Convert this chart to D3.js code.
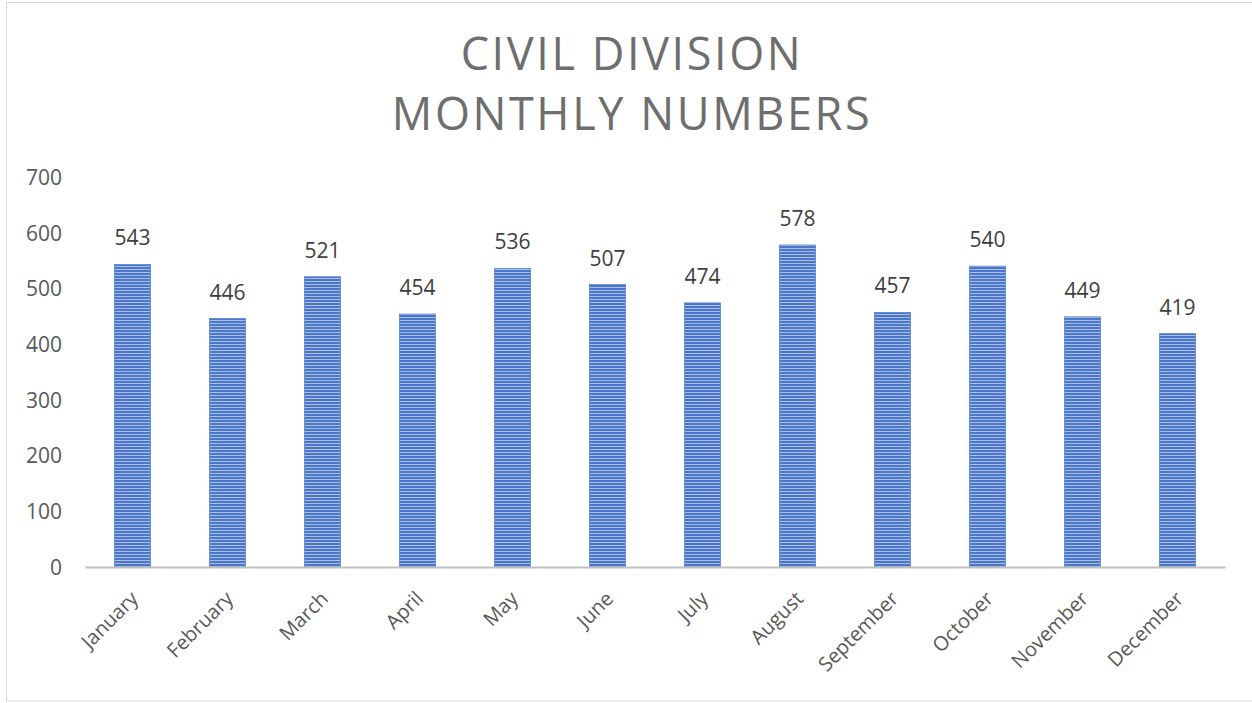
<!DOCTYPE html>
<html>
<head>
<meta charset="utf-8">
<script src="https://cdn.jsdelivr.net/npm/d3@7"></script>
<style>
  html, body { margin: 0; padding: 0; background: #fff; }
  svg { display: block; }
</style>
</head>
<body>
<svg id="chart" width="1252" height="703"></svg>
<script>
// Monthly case counts for the civil division
const months = ["January", "February", "March", "April", "May", "June",
                "July", "August", "September", "October", "November", "December"];
const counts = [543, 446, 521, 454, 536, 507, 474, 578, 457, 540, 449, 419];
const yTicks = [0, 100, 200, 300, 400, 500, 600, 700];
const titleLines = ["CIVIL DIVISION", "MONTHLY NUMBERS"];

const svg = d3.select("#chart");
const W = 1252, H = 703;
const margin = { left: 85, right: 27, top: 177, bottom: 136 };
const font = "'Open Sans', 'Noto Sans', sans-serif";
const textColor = "#595959";

// outer chart frame
svg.append("rect")
  .attr("x", 6.5).attr("y", 2.5)
  .attr("width", W - 4).attr("height", 698.5)
  .attr("fill", "none").attr("stroke", "#d9d9d9").attr("stroke-width", 1);

// striped fill for the bars
const defs = svg.append("defs");
const pat = defs.append("pattern")
  .attr("id", "stripes").attr("patternUnits", "userSpaceOnUse")
  .attr("width", 8).attr("height", 3);
pat.append("rect").attr("width", 8).attr("height", 3).attr("fill", "#4a77c8");
pat.append("rect").attr("y", 2).attr("width", 8).attr("height", 1).attr("fill", "#a9bde6");

const x = d3.scaleBand()
  .domain(months)
  .range([margin.left, W - margin.right])
  .paddingInner(0.62)
  .paddingOuter(0.31);

const y = d3.scaleLinear()
  .domain([0, 700])
  .range([H - margin.bottom, margin.top]);

// title
svg.append("g").selectAll("text")
  .data(titleLines).join("text")
  .attr("x", 632)
  .attr("y", (d, i) => 70 + i * 60)
  .attr("text-anchor", "middle")
  .attr("font-family", font)
  .attr("font-size", 45)
  .attr("letter-spacing", 2.6)
  .attr("fill", "#6e6e6e")
  .text(d => d);

// y axis labels (no axis line)
const yAxis = d3.axisLeft(y).tickValues(yTicks).tickSize(0).tickPadding(0);
const yg = svg.append("g").attr("transform", "translate(62,0)").call(yAxis);
yg.select(".domain").remove();
yg.selectAll("text")
  .attr("font-family", font).attr("font-size", 21).attr("fill", textColor)
  .attr("dy", "0.35em");

// bars
svg.append("g").selectAll("rect")
  .data(months).join("rect")
  .attr("x", d => x(d))
  .attr("y", (d, i) => y(counts[i]))
  .attr("width", x.bandwidth())
  .attr("height", (d, i) => y(0) - y(counts[i]))
  .attr("fill", "url(#stripes)")
  .attr("stroke", "#5b84d1").attr("stroke-width", 0.8);

// value labels
svg.append("g").selectAll("text")
  .data(months).join("text")
  .attr("x", d => x(d) + x.bandwidth() / 2)
  .attr("y", (d, i) => y(counts[i]) - 19)
  .attr("text-anchor", "middle")
  .attr("font-family", font).attr("font-size", 21)
  .attr("fill", "#404040")
  .text((d, i) => counts[i]);

// x axis baseline and rotated month labels
const xAxis = d3.axisBottom(x).tickSize(0).tickPadding(0);
const xg = svg.append("g").attr("transform", `translate(0,${y(0)})`).call(xAxis);
xg.select(".domain").attr("stroke", "#bfbfbf").attr("stroke-width", 2);
xg.selectAll("text")
  .attr("font-family", font).attr("font-size", 20).attr("fill", textColor)
  .attr("text-anchor", "end")
  .attr("dy", "0.35em")
  .attr("transform", "translate(2,28) rotate(-45)");
</script>
</body>
</html>
